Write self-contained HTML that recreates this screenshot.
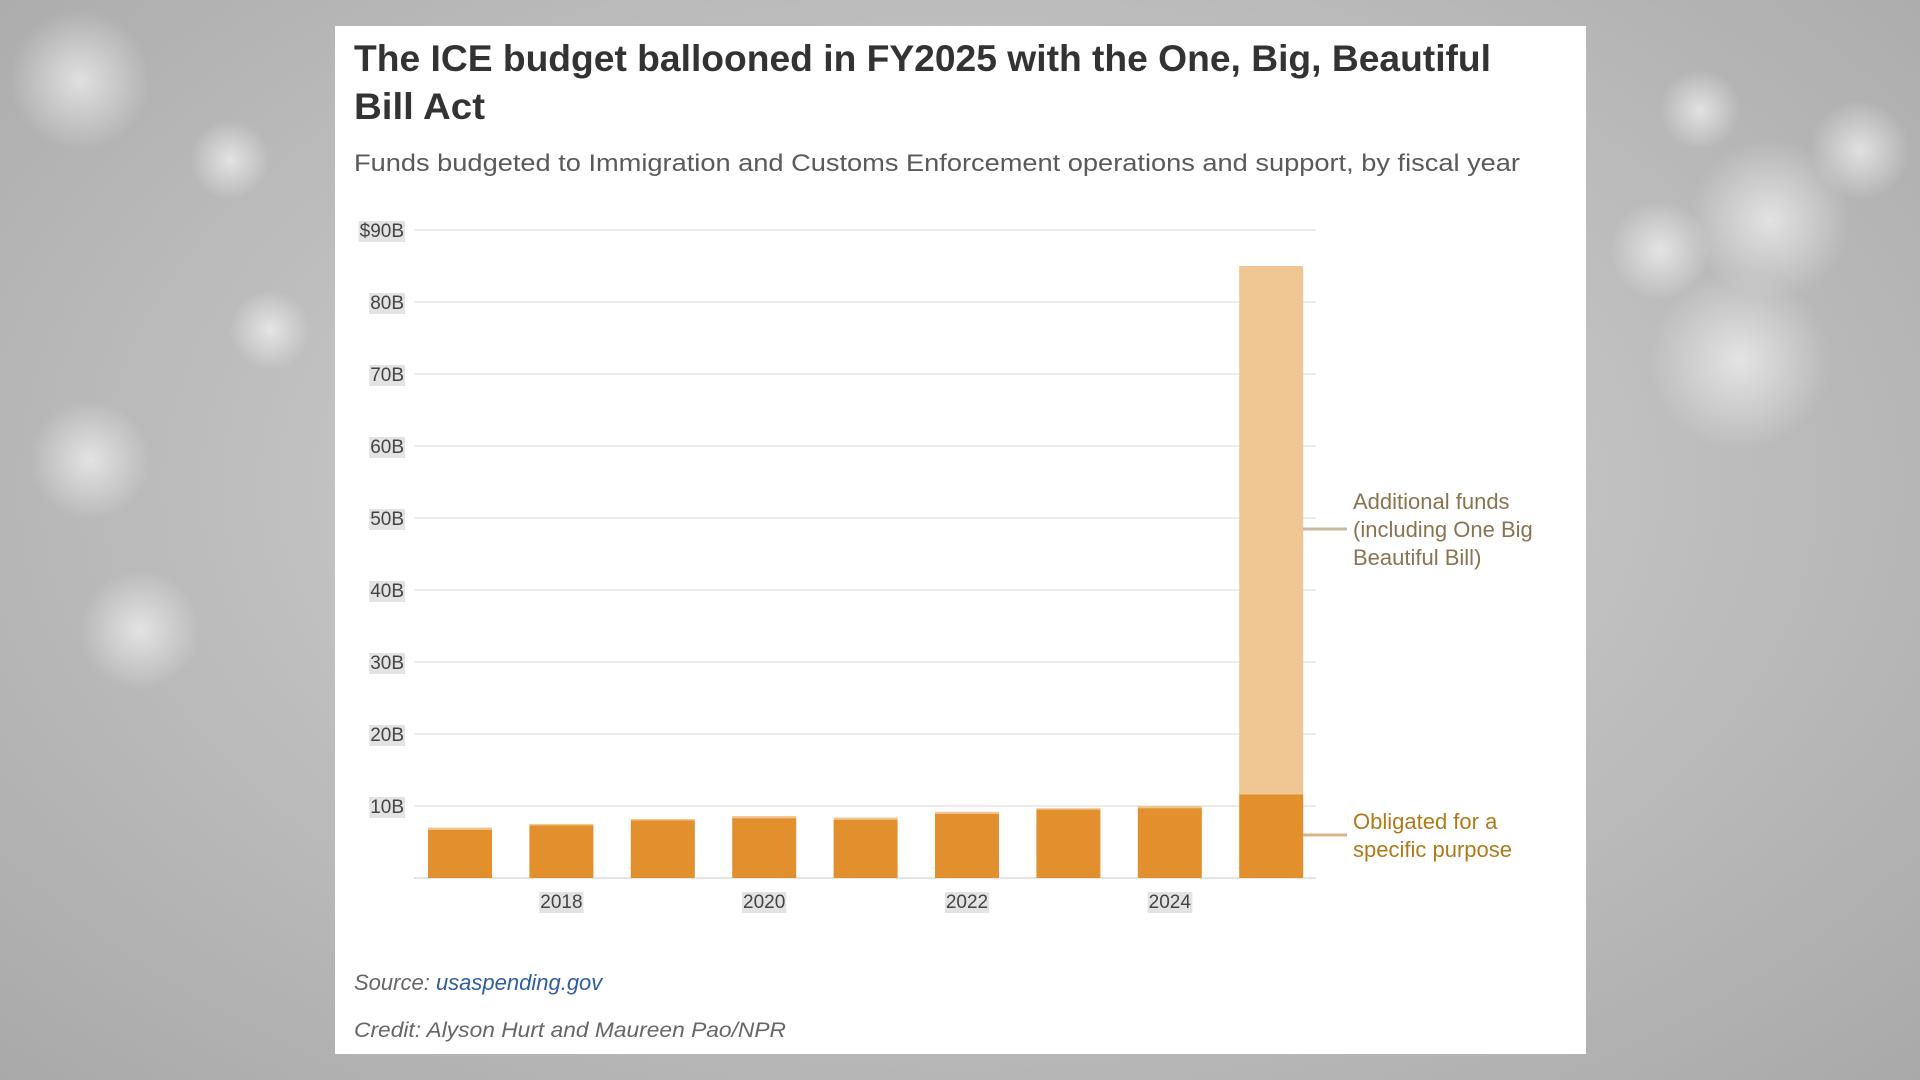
<!DOCTYPE html>
<html><head><meta charset="utf-8"><style>
html,body{margin:0;padding:0;width:1920px;height:1080px;overflow:hidden}
body{background:radial-gradient(ellipse at 50% 45%,#d8d8d8 0%,#bdbdbd 55%,#a9a9a9 100%);font-family:"Liberation Sans",sans-serif}
</style></head><body>
<svg width="1920" height="1080" viewBox="0 0 1920 1080" xmlns="http://www.w3.org/2000/svg">
<defs><radialGradient id="bk"><stop offset="0" stop-color="#fff" stop-opacity="0.6"/><stop offset="1" stop-color="#fff" stop-opacity="0"/></radialGradient></defs>
<g>
<circle cx="80" cy="80" r="70" fill="url(#bk)"/><circle cx="230" cy="160" r="40" fill="url(#bk)"/>
<circle cx="270" cy="330" r="40" fill="url(#bk)"/><circle cx="90" cy="460" r="60" fill="url(#bk)"/>
<circle cx="140" cy="630" r="60" fill="url(#bk)"/><circle cx="1770" cy="220" r="80" fill="url(#bk)"/>
<circle cx="1700" cy="110" r="40" fill="url(#bk)"/><circle cx="1740" cy="360" r="90" fill="url(#bk)"/>
<circle cx="1860" cy="150" r="50" fill="url(#bk)"/><circle cx="1660" cy="250" r="50" fill="url(#bk)"/>
</g>
<rect x="335" y="26" width="1251" height="1028" fill="#fff"/>
<text x="354" y="71" font-size="37" font-weight="bold" fill="#333" textLength="1137" lengthAdjust="spacingAndGlyphs">The ICE budget ballooned in FY2025 with the One, Big, Beautiful</text>
<text x="354" y="119" font-size="37" font-weight="bold" fill="#333" textLength="131" lengthAdjust="spacingAndGlyphs">Bill Act</text>
<text x="354" y="171" font-size="24" fill="#5a5a5a" textLength="1166" lengthAdjust="spacingAndGlyphs">Funds budgeted to Immigration and Customs Enforcement operations and support, by fiscal year</text>
<g id="grid"></g><g id="bars"></g><g id="xlab"></g>
<line x1="1303" y1="529" x2="1347" y2="529" stroke="#c9b9a0" stroke-width="3"/>
<line x1="1303" y1="835" x2="1347" y2="835" stroke="#d9b38a" stroke-width="3"/>
<g font-size="22" fill="#8a7350">
<text x="1353" y="509">Additional funds</text><text x="1353" y="537">(including One Big</text><text x="1353" y="565">Beautiful Bill)</text></g>
<g font-size="22" fill="#b07a1a">
<text x="1353" y="829">Obligated for a</text><text x="1353" y="857">specific purpose</text></g>
<text x="354" y="990" font-size="22" font-style="italic" fill="#666">Source: <tspan fill="#2f5f9f">usaspending.gov</tspan></text>
<text x="354" y="1037" font-size="21" font-style="italic" fill="#666" textLength="432" lengthAdjust="spacingAndGlyphs">Credit: Alyson Hurt and Maureen Pao/NPR</text>
</svg>
<script>
const years=[2017,2018,2019,2020,2021,2022,2023,2024,2025];
const obligated=[6.7,7.3,8.0,8.3,8.1,8.9,9.5,9.7,11.6];
const totals=[7.0,7.5,8.2,8.6,8.4,9.2,9.7,10.0,85.0];
const yTicks=[10,20,30,40,50,60,70,80,90];
const yTickLabels=["10B","20B","30B","40B","50B","60B","70B","80B","$90B"];
const xTickYears=[2018,2020,2022,2024];
const NS="http://www.w3.org/2000/svg";
const y=v=>878-v*7.2;
const x=yr=>460+(yr-2017)*101.4;
const bw=64;
function mk(t,a,p){const e=document.createElementNS(NS,t);for(const k in a)e.setAttribute(k,a[k]);p.appendChild(e);return e;}
const grid=document.getElementById('grid');
yTicks.forEach((v,i)=>{
 const l=mk('line',{x1:414,x2:1316,y1:y(v),y2:y(v),stroke:'#ececec','stroke-width':2},grid);
 
 
 const t=mk('text',{x:404,y:y(v)+7,'font-size':19,fill:'#444','text-anchor':'end'},grid);
 t.textContent=yTickLabels[i];
 
 
 const bb=t.getBBox();
 const r=document.createElementNS(NS,'rect');
 r.setAttribute('x',bb.x-1);r.setAttribute('y',bb.y);r.setAttribute('width',bb.width+2);r.setAttribute('height',bb.height);r.setAttribute('fill','#e3e3e3');
 
 
 grid.insertBefore(r,t);
});
const base=mk('line',{x1:414,x2:1316,y1:878,y2:878,stroke:'#e4e4e4','stroke-width':2},grid);


const bars=document.getElementById('bars');
years.forEach((yr,i)=>{
 const a=mk('rect',{x:x(yr)-bw/2,y:y(totals[i]),width:bw,height:y(obligated[i])-y(totals[i]),fill:'#efc592'},bars);
 
 
 const o=mk('rect',{x:x(yr)-bw/2,y:y(obligated[i]),width:bw,height:878-y(obligated[i]),fill:'#e28f2e'},bars);
 
 
});
const xl=document.getElementById('xlab');
xTickYears.forEach(yr=>{
 const t=mk('text',{x:x(yr),y:908,'font-size':19,fill:'#444','text-anchor':'middle'},xl);
 t.textContent=yr;
 
 
 const bb=t.getBBox();
 const r=document.createElementNS(NS,'rect');
 r.setAttribute('x',bb.x-1);r.setAttribute('y',bb.y);r.setAttribute('width',bb.width+2);r.setAttribute('height',bb.height);r.setAttribute('fill','#e3e3e3');
 
 
 xl.insertBefore(r,t);
});
</script>
</body></html>
